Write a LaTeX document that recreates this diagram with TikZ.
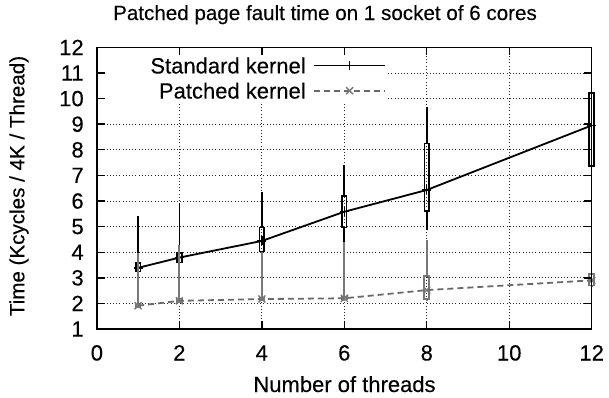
\documentclass[tikz,border=0pt]{standalone}
\usepackage{fontspec}
\setmainfont{Liberation Sans}[FakeBold=0.2]
\definecolor{patgray}{RGB}{120,120,120}
\definecolor{patline}{RGB}{105,105,105}
\newcommand\mycandle[6]{%
  \draw[#6] (#1,#2) -- (#1,#3);
  \draw[#6] (#1,#4) -- (#1,#5);
  \draw[#6] ([xshift=-2.4bp]#1,#3) rectangle ([xshift=2.4bp]#1,#4);
}
\newcommand\myplus[2]{%
  \draw[line width=1.4bp] ([xshift=-4.5bp]#1,#2) -- ([xshift=4.5bp]#1,#2);
  \draw[line width=1.4bp] ([yshift=-4.5bp]#1,#2) -- ([yshift=4.5bp]#1,#2);
}
\newcommand\mycross[2]{%
  \draw[line width=1.4bp,patgray] ([xshift=-3.5bp,yshift=-3.5bp]#1,#2) -- ([xshift=3.5bp,yshift=3.5bp]#1,#2);
  \draw[line width=1.4bp,patgray] ([xshift=-3.5bp,yshift=3.5bp]#1,#2) -- ([xshift=3.5bp,yshift=-3.5bp]#1,#2);
}
\begin{document}
\begin{tikzpicture}[x=1bp,y=1bp,
  lab/.style={font=\fontsize{22bp}{26bp}\selectfont, inner sep=0pt, text=black},
  smalllab/.style={font=\fontsize{20.6bp}{24bp}\selectfont, inner sep=0pt, text=black},
  gridline/.style={line width=0.7bp, dash pattern=on 1bp off 2.2bp, black!85},
  frameline/.style={line width=1.4bp, black},
  stdcandle/.style={line width=1.6bp, black},
  patcandle/.style={line width=1.8bp, patgray},
  stdline/.style={line width=1.8bp, black},
  patdash/.style={line width=1.8bp, patline, dash pattern=on 6bp off 4bp}]
\useasboundingbox (0,0) rectangle (609,397);
\node[smalllab, anchor=base] (title) at (325,377) {Patched page fault time on 1 socket of 6 cores};
\node[lab, anchor=base] (xlabel) at (344.5,5) {Number of threads};
\node[smalllab, rotate=90] (ylabel) at (19,211) {Time (Kcycles / 4K / Thread)};
\begin{scope}[shift={(96.9bp,42.4bp)}, x=41.23bp, y=25.6bp]
  % grid
  \foreach \v in {2,...,11} {\draw[gridline] (0,\v) -- (12,\v);}
  \foreach \u in {2,4,...,10} {\draw[gridline] (\u,1) -- (\u,12);}
  % opaque key box
  \fill[white] (0.148,9.83) rectangle (7.01,11.92);
  % standard kernel candlesticks
  \mycandle{1}{3.2}{3.24}{3.57}{5.41}{stdcandle}
  \mycandle{2}{3.5}{3.59}{3.96}{5.93}{stdcandle}
  \mycandle{4}{4.0}{4.02}{4.96}{6.36}{stdcandle}
  \mycandle{6}{4.41}{4.96}{6.2}{7.41}{stdcandle}
  \mycandle{8}{4.87}{5.61}{8.25}{9.68}{stdcandle}
  \mycandle{12}{6.17}{7.37}{10.23}{12}{stdcandle}
  \draw[stdline] (1,3.39) -- (2,3.79) -- (4,4.44) -- (6,5.58) -- (8,6.43) -- (12,8.95);
  \foreach \a/\b in {1/3.39,2/3.79,4/4.44,6/5.58,8/6.43,12/8.95} {\myplus{\a}{\b}}
  % patched kernel candlesticks
  \mycandle{1}{1.85}{1.86}{1.96}{3.97}{patcandle}
  \mycandle{2}{2.04}{2.05}{2.16}{4.28}{patcandle}
  \mycandle{4}{2.1}{2.12}{2.22}{4.0}{patcandle}
  \mycandle{6}{2.14}{2.15}{2.25}{4.41}{patcandle}
  \mycandle{8}{2.1}{2.16}{3.07}{4.48}{patcandle}
  \mycandle{12}{2.65}{2.7}{3.15}{3.2}{patcandle}
  \draw[patdash] (1,1.91) -- (2,2.1) -- (4,2.17) -- (6,2.2) -- (8,2.52) -- (12,2.9);
  \foreach \a/\b in {1/1.91,2/2.1,4/2.17,6/2.2,8/2.52,12/2.9} {\mycross{\a}{\b}}
  % key
  \node[lab, anchor=east] (k1) at (5.07,11.29) {Standard kernel};
  \node[lab, anchor=east] (k2) at (5.07,10.31) {Patched kernel};
  \coordinate (k1a) at (5.27,11.29);
  \coordinate (k1b) at (6.99,11.29);
  \coordinate (k2a) at (5.27,10.31);
  \coordinate (k2b) at (6.99,10.31);
  \draw[stdline] (k1a) -- (k1b);
  \myplus{6.13}{11.29}
  \draw[patdash] (k2a) -- (k2b);
  \mycross{6.13}{10.31}
  % frame and ticks
  \draw[frameline] (0,1) rectangle (12,12);
  \foreach \u in {0,2,...,12} {
    \draw[frameline] (\u,1) -- ++(0pt,8bp);
    \draw[frameline] (\u,12) -- ++(0pt,-8bp);
    \node[lab, anchor=base] (xt\u) at ([yshift=-31.5bp]\u,1) {\u};
  }
  \foreach \v in {1,...,12} {
    \draw[frameline] (0,\v) -- ++(8bp,0pt);
    \draw[frameline] (12,\v) -- ++(-8bp,0pt);
    \node[lab, anchor=east] (yt\v) at ([xshift=-13bp]0,\v) {\v};
  }
\end{scope}
\end{tikzpicture}
\end{document}
